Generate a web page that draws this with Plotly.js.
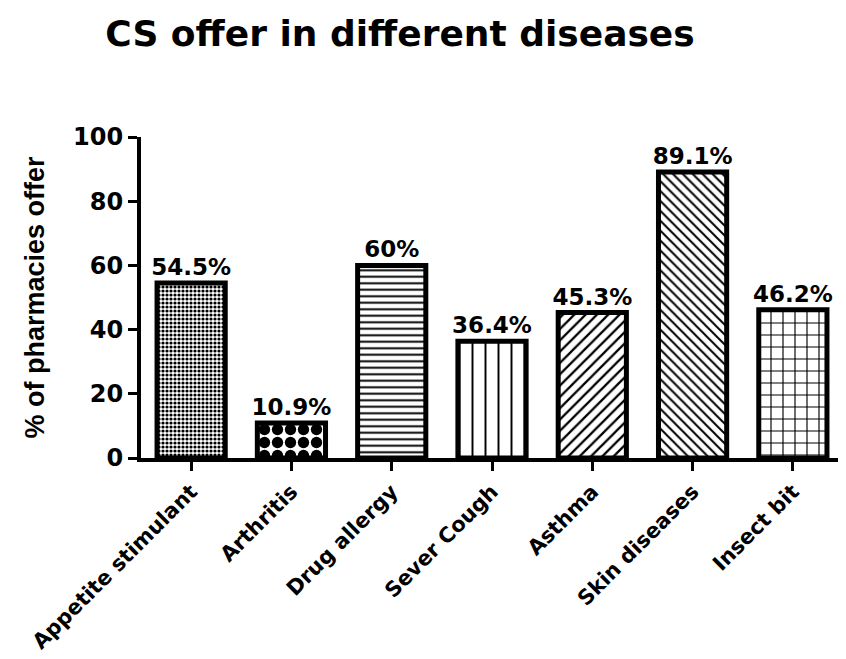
<!DOCTYPE html>
<html>
<head>
<meta charset="utf-8">
<script src="https://cdn.plot.ly/plotly-3.0.1.min.js"></script>
<style>body{margin:0;background:#fff}#chart{width:846px;height:659px}</style>
</head>
<body>
<div id="chart"></div>
<script>
const categories = ["Appetite stimulant", "Arthritis", "Drug allergy", "Sever Cough", "Asthma", "Skin diseases", "Insect bit"];
const values = [54.5, 10.9, 60, 36.4, 45.3, 89.1, 46.2];
const labels = values.map(v => v + "%");
const patternShapes = [".", ".", "-", "|", "/", "\\", "+"];
const patternSizes = [4, 13, 6.5, 13, 8, 7, 12];
const patternSolidity = [0.5, 0.6, 0.3, 0.15, 0.28, 0.28, 0.18];
const yTicks = [0, 20, 40, 60, 80, 100];

const WIDE = "DejaVu Sans, Verdana, sans-serif";
const NARROW = "Liberation Sans Narrow, Arial Narrow, Liberation Sans, sans-serif";

const trace = {
  type: "bar",
  x: categories,
  y: values,
  width: 0.68,
  text: labels,
  textposition: "outside",
  constraintext: "none",
  cliponaxis: false,
  textfont: {family: WIDE, size: 23, color: "#000", weight: "bold"},
  marker: {
    color: "#ffffff",
    line: {color: "#000", width: 5},
    pattern: {shape: patternShapes, size: patternSizes, solidity: patternSolidity,
              fgcolor: "#000", bgcolor: "#fff", fgopacity: 1, fillmode: "overlay"}
  },
  hoverinfo: "none"
};

const layout = {
  width: 846, height: 659,
  margin: {l: 141, r: 8, t: 137, b: 201},
  paper_bgcolor: "#fff", plot_bgcolor: "#fff",
  showlegend: false,
  title: {
    text: "<b>CS offer in different diseases</b>",
    font: {family: WIDE, size: 36, color: "#000"},
    xref: "container", x: 400/846, xanchor: "center",
    yref: "container", y: 1 - 33/659, yanchor: "middle"
  },
  xaxis: {
    type: "category",
    range: [-0.5, 6.45],
    showline: true, linecolor: "#000", linewidth: 4,
    ticks: "outside", ticklen: 9, tickwidth: 3, tickcolor: "#000",
    tickangle: -45,
    tickfont: {family: WIDE, size: 21, color: "#000", weight: "bold"},
    showgrid: false, zeroline: false
  },
  yaxis: {
    range: [0, 100],
    tickvals: yTicks,
    showline: true, linecolor: "#000", linewidth: 4,
    ticks: "outside", ticklen: 9, tickwidth: 3, tickcolor: "#000",
    tickfont: {family: WIDE, size: 24, color: "#000", weight: "bold"},
    showgrid: false, zeroline: false,
    title: {
      text: "<b>% of pharmacies offer</b>",
      font: {family: NARROW, size: 27, color: "#000"},
      standoff: 22
    }
  }
};

Plotly.newPlot("chart", [trace], layout, {displayModeBar: false, staticPlot: true});
</script>
</body>
</html>
